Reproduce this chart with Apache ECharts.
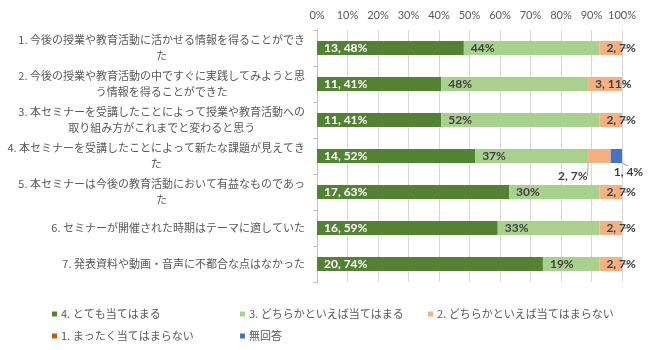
<!DOCTYPE html>
<html>
<head>
<meta charset="utf-8">
<script src="https://cdn.jsdelivr.net/npm/echarts@6/dist/echarts.min.js"></script>
<style>
html,body{margin:0;padding:0;background:#fff;}
#wrap{position:absolute;left:0;top:0;width:653px;height:348px;border:1px solid #d9d9d9;}
#chart{width:655px;height:350px;position:absolute;left:-1px;top:-1px;}
</style>
</head>
<body>
<div id="wrap"><div id="chart"></div></div>
<script>
const categories = [
  "1. 今後の授業や教育活動に活かせる情報を得ることができ\nた",
  "2. 今後の授業や教育活動の中ですぐに実践してみようと思\nう情報を得ることができた",
  "3. 本セミナーを受講したことによって授業や教育活動への\n取り組み方がこれまでと変わると思う",
  "4. 本セミナーを受講したことによって新たな課題が見えてき\nた",
  "5. 本セミナーは今後の教育活動において有益なものであっ\nた",
  "6. セミナーが開催された時期はテーマに適していた",
  "7. 発表資料や動画・音声に不都合な点はなかった"
];
const seriesNames = ["4. とても当てはまる", "3. どちらかといえば当てはまる", "2. どちらかといえば当てはまらない", "1. まったく当てはまらない", "無回答"];
const count4 = [13, 11, 11, 14, 17, 16, 20];
const count3 = [12, 13, 14, 10, 8, 9, 5];
const count2 = [2, 3, 2, 2, 2, 2, 2];
const count1 = [0, 0, 0, 0, 0, 0, 0];
const countNA = [0, 0, 0, 1, 0, 0, 0];
const xTicks = [0, 10, 20, 30, 40, 50, 60, 70, 80, 90, 100];
const colors = ["#548235", "#A9D18E", "#F4B183", "#C55A11", "#4472C4"];

const allCounts = [count4, count3, count2, count1, countNA];
const totals = categories.map((_, i) => allCounts.reduce((s, a) => s + a[i], 0));

const numFont = "Lato, 'Noto Sans CJK JP', sans-serif";
const jpFont = "'Noto Sans CJK JP', sans-serif";

function makeData(arr) {
  return arr.map((c, i) => ({ value: c / totals[i] * 100, count: c }));
}
function pct(p) { return Math.round(p.value) + '%'; }

const labelModes = ['countPct', 'pct', 'countPct', 'countPct', 'countPct'];
const labelColors = ['#ffffff', '#404040', '#404040', '#404040', '#404040'];

const series = allCounts.map((arr, k) => ({
  name: seriesNames[k],
  type: 'bar',
  stack: 'total',
  barWidth: 14,
  itemStyle: { color: colors[k] },
  data: makeData(arr),
  label: {
    show: true,
    position: 'insideLeft',
    distance: 7,
    color: labelColors[k],
    fontFamily: numFont,
    fontWeight: 'bold',
    fontSize: 12,
    formatter: function (p) {
      if (!p.data.count) return '';
      return labelModes[k] === 'pct' ? pct(p) : p.data.count + ', ' + pct(p);
    }
  },
  labelLine: { show: k >= 2, lineStyle: { color: '#a6a6a6', width: 1 }, smooth: false },
  labelLayout: function (params) {
    if (params.dataIndex === 3 && k === 2) return { dx: -37, dy: 20 };
    if (params.dataIndex === 3 && k === 4) return { dx: -4, dy: 16 };
    return {};
  }
}));

const chart = echarts.init(document.getElementById('chart'), null, { renderer: 'canvas' });
chart.setOption({
  animation: false,
  backgroundColor: '#ffffff',
  grid: { left: 317, right: 33, top: 30, bottom: 68 },
  xAxis: {
    type: 'value',
    position: 'top',
    min: xTicks[0],
    max: xTicks[xTicks.length - 1],
    interval: xTicks[1] - xTicks[0],
    axisLine: { show: false },
    axisTick: { show: false },
    splitLine: { show: true, lineStyle: { color: '#d9d9d9', width: 1 } },
    axisLabel: { color: '#595959', fontSize: 11, fontFamily: numFont, margin: 9, formatter: '{value}%' }
  },
  yAxis: {
    type: 'category',
    inverse: true,
    data: categories,
    axisLine: { show: true, lineStyle: { color: '#bfbfbf' } },
    axisTick: { show: true, length: 4, lineStyle: { color: '#bfbfbf' } },
    axisLabel: {
      color: '#595959',
      fontSize: 11,
      fontFamily: jpFont,
      margin: 12,
      lineHeight: 16,
      formatter: function (v) { return v.split('\n').map(s => '{c|' + s + '}').join('\n'); },
      rich: { c: { align: 'center', color: '#595959', fontSize: 11, fontFamily: jpFont, lineHeight: 16 } }
    }
  },
  legend: {
    left: 47,
    top: 298,
    width: 580,
    itemWidth: 5,
    itemHeight: 5,
    itemGap: 0,
    icon: 'rect',
    data: seriesNames,
    textStyle: { color: '#595959', fontSize: 11, fontFamily: jpFont, width: 179, overflow: 'none', lineHeight: 22, padding: [0, 0, 0, -1] }
  },
  series: series
});
</script>
</body>
</html>
